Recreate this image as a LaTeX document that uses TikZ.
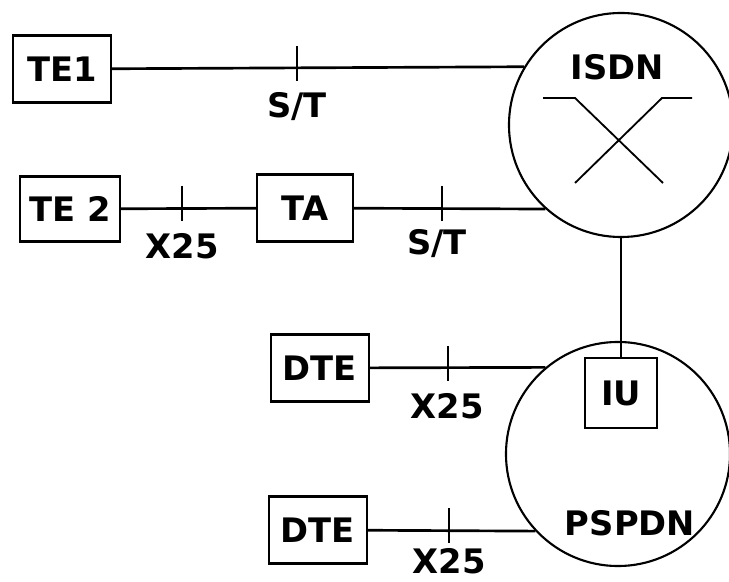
\documentclass[tikz,border=0pt]{standalone}
\usepackage{fontspec}
\setmainfont{DejaVu Sans}
\usetikzlibrary{positioning}
\newcommand{\netfont}{\fontsize{24}{26}\selectfont\bfseries}
\tikzset{
    unitbox/.style={
        rectangle,
        draw=black,
        line width=1.6pt,
        inner sep=0pt,
        minimum width=2.45cm,
        minimum height=1.68cm,
        font=\netfont
    },
    netcircle/.style={
        circle,
        draw=black,
        line width=1.5pt,
        inner sep=0pt,
        minimum size=5.6cm
    },
    lbl/.style={
        font=\netfont,
        inner sep=0pt
    },
    link/.style={
        line width=1.9pt
    },
    tickmark/.style={
        line width=1.9pt
    },
    switchline/.style={
        line width=1.3pt
    }
}

\begin{document}
\begin{tikzpicture}[x=0.025cm, y=-0.025cm]
    \useasboundingbox (0,0) rectangle (729,582);

    % networks
    \node[netcircle] (isdn) at (621,125) {};
    \node[netcircle] (pspdn) at (618,454) {};
    \node[lbl] (isdnlbl) at (617,67) {ISDN};
    \node[lbl] (pspdnlbl) at (630,523) {PSPDN};
    \draw[switchline] (543,98) -- (575,98) -- (663,183);
    \draw[switchline] (692,98) -- (662,98) -- (575,183);

    % terminals
    \node[unitbox] (te1) at (62,69) {TE1};
    \node[unitbox, minimum width=2.5cm, minimum height=1.62cm] (te2) at (70,209) {TE 2};
    \node[unitbox, minimum width=2.4cm] (ta) at (305,208) {TA};
    \node[unitbox] (dte1) at (320,368) {DTE};
    \node[unitbox] (dte2) at (318,530) {DTE};
    \node[unitbox, minimum width=1.8cm, minimum height=1.75cm] (iu) at (621,393) {IU};

    % links
    \draw[link] (te1) -- (isdn.149);
    \draw[link] (te2) -- (ta);
    \draw[link] (ta) -- (isdn.228);
    \draw[link] (dte1) -- (pspdn.130);
    \draw[link] (dte2) -- (pspdn.223);
    \draw[link] (isdn.south) -- (iu.north);

    % interfaces
    \coordinate (st1) at (297,68);
    \coordinate (x1) at (182,208);
    \coordinate (st2) at (442,208);
    \coordinate (x2) at (448,368);
    \coordinate (x3) at (449,530);
    \foreach \t in {st1, x1, st2, x2, x3}
        \draw[tickmark] (\t) ++(0,-22) -- ++(0,35);
    \node[lbl] (st1lbl) at (297,107) {S/T};
    \node[lbl] (x1lbl) at (182,246) {X25};
    \node[lbl] (st2lbl) at (437,244) {S/T};
    \node[lbl] (x2lbl) at (447,406) {X25};
    \node[lbl] (x3lbl) at (449,561) {X25};
\end{tikzpicture}
\end{document}
